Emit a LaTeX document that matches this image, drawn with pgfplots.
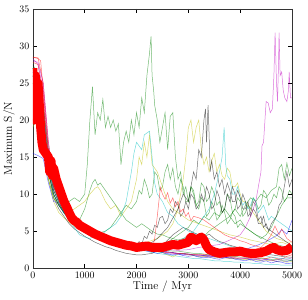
\documentclass[border=0pt]{standalone}
\usepackage{pgfplots}
\pgfplotsset{compat=1.18}
\usepackage{pgfplotstable}
\definecolor{mb}{rgb}{0,0,1}
\definecolor{mg}{rgb}{0,0.5,0}
\definecolor{mr}{rgb}{1,0,0}
\definecolor{mc}{rgb}{0,0.75,0.75}
\definecolor{mm}{rgb}{0.75,0,0.75}
\definecolor{my}{rgb}{0.75,0.75,0}
\definecolor{mk}{rgb}{0,0,0}
\pgfplotsset{tl/.style={line width=0.5bp, opacity=0.55, mark=none}}
\pgfplotstableread{
t b1 b2 m1 r1 c1 k1 y1 g0 b3
0 26.5 15.5 28.3 28.5 26.0 27.5 20.0 27.0 27.0
100 25.0 15.2 27.5 28.4 24.0 26.0 22.0 25.5 26.0
200 21.0 14.8 24.0 25.0 19.0 20.0 18.0 21.5 22.0
300 14.0 11.5 16.0 17.0 13.0 13.0 12.0 15.0 15.0
400 10.5 9.0 11.0 12.0 10.0 9.5 9.0 11.5 11.0
500 9.0 8.8 9.5 10.0 8.5 8.0 7.5 9.5 9.2
600 8.0 7.5 8.3 8.6 7.4 7.0 6.8 8.2 8.0
700 7.0 7.2 7.4 7.6 6.5 6.0 6.2 7.3 7.1
800 6.5 6.4 6.8 6.9 5.8 5.3 5.7 6.7 6.3
900 6.0 5.9 6.2 6.3 5.3 4.8 5.3 6.1 5.8
1000 5.6 5.2 5.7 5.8 5.0 4.3 5.0 5.6 5.3
1100 5.1 5.0 5.3 5.4 4.8 3.9 4.6 5.2 4.9
1200 4.7 4.5 4.9 5.0 4.4 3.5 4.3 4.8 4.5
1300 4.4 4.3 4.5 4.6 4.1 3.2 4.0 4.5 4.2
1400 4.1 3.9 4.2 4.3 3.9 2.9 3.8 4.2 3.9
1500 3.8 3.6 3.9 4.0 3.6 2.7 3.6 4.0 3.7
1600 3.6 3.5 3.7 3.7 3.4 2.4 3.4 3.8 3.5
1700 3.3 3.2 3.4 3.5 3.2 2.2 3.2 3.6 3.3
1800 3.1 2.9 3.2 3.3 3.0 2.0 3.1 3.4 3.1
1900 3.0 2.8 3.0 3.1 2.8 1.9 2.9 3.3 2.9
2000 2.8 2.6 2.9 2.9 2.6 1.8 2.8 3.1 2.8
2100 2.6 2.5 2.7 2.8 2.4 1.8 2.6 3.0 2.7
2200 2.5 2.3 2.6 2.6 2.3 1.9 2.5 2.9 2.6
2300 2.3 2.2 2.4 2.5 2.1 2.0 2.4 2.7 2.5
2400 2.3 2.0 2.3 2.4 2.0 2.4 2.2 2.6 2.4
2500 2.1 2.1 2.2 2.3 1.9 3.0 2.1 2.5 2.3
2600 2.0 1.9 2.1 2.2 1.8 3.8 1.8 2.4 2.2
2700 2.1 1.8 2.0 2.1 1.7 4.5 1.5 2.3 2.1
2800 1.9 1.9 2.0 2.0 1.6 5.0 1.9 2.3 2.0
2900 1.8 1.7 1.9 2.0 1.5 5.5 2.0 2.2 2.0
3000 1.9 1.6 1.8 1.9 1.4 5.2 1.8 2.1 1.9
3100 1.7 1.7 1.8 1.8 1.3 4.8 1.7 2.0 1.8
3200 1.6 1.5 1.7 1.8 1.3 4.5 1.6 2.0 1.8
3300 1.7 1.4 1.6 1.7 1.2 4.2 1.6 1.9 1.7
3400 1.5 1.5 1.6 1.7 1.1 4.6 1.5 1.8 1.7
3500 1.6 1.3 1.5 1.6 1.0 4.0 1.5 1.8 1.6
3600 1.4 1.2 1.5 1.6 1.0 3.6 1.4 1.7 1.6
3700 1.5 1.4 1.4 1.5 0.9 3.4 1.4 1.7 1.7
3800 1.3 1.5 1.4 1.5 0.9 3.1 1.3 1.6 1.8
3900 1.4 1.2 1.3 1.4 0.8 2.9 1.3 1.6 2.0
4000 1.2 1.1 1.3 1.4 0.8 2.7 1.2 1.5 2.2
4100 1.3 1.0 1.4 1.3 0.7 2.5 1.2 1.5 2.5
4200 1.1 1.2 1.2 1.3 0.7 2.3 1.1 1.4 2.8
4300 1.2 0.9 1.3 1.2 0.6 2.2 1.1 1.4 3.0
4400 1.0 0.8 1.1 1.4 0.6 2.0 1.0 1.3 3.3
4500 1.2 1.0 1.2 1.3 0.5 1.9 1.0 1.3 3.6
4600 1.1 0.7 1.0 1.5 0.5 1.8 1.1 1.2 4.0
4700 0.9 0.9 1.1 1.3 0.5 1.7 0.9 1.2 4.4
4800 1.0 0.8 1.3 1.2 0.4 1.6 1.0 1.1 5.2
4900 0.9 0.6 1.2 1.6 0.4 1.5 0.8 1.1 4.6
5000 1.1 0.7 1.4 1.8 0.4 1.5 0.9 1.0 6.5
}\bundle
\begin{document}
\begin{tikzpicture}
\begin{axis}[
  scale only axis, width=260bp, height=260bp,
  xmin=0, xmax=5000, ymin=0, ymax=35,
  xtick={0,1000,2000,3000,4000,5000},
  ytick={0,5,10,15,20,25,30,35},
  scaled x ticks=false,
  /pgf/number format/set thousands separator={},
  tick align=inside, major tick length=4bp,
  tick style={black, line width=0.5bp},
  axis line style={black!80, line width=0.7bp},
  tick label style={font=\fontsize{10}{12}\selectfont},
  label style={font=\fontsize{11.5}{13}\selectfont},
  xlabel={Time / Myr}, ylabel={Maximum S/N},
  xlabel style={at={(axis description cs:0.5,-0.07)}, anchor=center},
  ylabel style={at={(axis description cs:-0.092,0.5)}, anchor=center},
  clip=true,
]
\addplot[tl, mb] table[x=t, y=b1] {\bundle};
\addplot[tl, mg] table[x=t, y=g0] {\bundle};
\addplot[tl, mr] table[x=t, y=r1] {\bundle};
\addplot[tl, mc] table[x=t, y=c1] {\bundle};
\addplot[tl, mm] table[x=t, y=m1] {\bundle};
\addplot[tl, my] table[x=t, y=y1] {\bundle};
\addplot[tl, mk] table[x=t, y=k1] {\bundle};
\addplot[tl, mb] table[x=t, y=b2] {\bundle};
\addplot[tl, mb] table[x=t, y=b3] {\bundle};
% green A
\addplot[tl, mg] coordinates {(0,27.2)(100,26)(200,22)(300,16)(400,12)(500,10.5)(600,9.5)(700,9)(800,9.5)(900,9)(1000,10)(1050,14)(1100,20)(1150,24.5)(1200,18)(1250,21)(1300,20)(1350,22.8)(1400,19)(1450,20.5)(1500,19)(1550,20)(1600,18.5)(1650,19.5)(1700,14)(1750,17)(1800,18.5)(1850,17)(1900,20)(1950,18)(2000,21)(2050,19)(2100,23)(2150,21)(2200,26)(2250,29)(2280,31.3)(2300,26)(2330,24)(2350,22)(2400,20)(2450,17)(2500,19)(2550,21)(2600,16)(2650,20.5)(2700,21)(2750,15)(2800,12)(2850,13)(2900,10)(2950,11)(3000,9)(3050,11)(3100,10)(3150,8.5)(3200,8)(3250,9.5)(3300,9)(3350,7)(3400,7.5)(3450,9)(3500,8)(3550,6.5)(3600,7)(3650,8.5)(3700,7.5)(3750,6)(3800,6.5)(3850,7.5)(3900,7)(3950,5.5)(4000,6)(4100,5.5)(4200,5)(4300,4.5)(4400,4.2)(4500,3.8)(4600,3.5)(4700,3.2)(4800,3.0)(4900,2.8)(5000,2.6)};
% green 2
\addplot[tl, mg] coordinates {(0,26)(100,24.5)(200,19)(300,13)(400,10)(500,8.5)(600,7.8)(700,7)(800,6.5)(900,6.5)(1000,8)(1100,10.5)(1150,11.5)(1200,12)(1250,11.2)(1300,11.5)(1400,10.5)(1500,9.5)(1600,8.5)(1700,7.5)(1800,6.5)(1900,6)(2000,5.5)(2100,6)(2200,5.5)(2300,5)(2400,4.6)(2500,4.5)(2600,4.2)(2700,4)(2800,3.8)(2900,4)(3000,4.2)(3100,4)(3200,4.5)(3300,4.3)(3400,5)(3500,5.5)(3600,6)(3700,6.5)(3800,7)(3900,8)(4000,7)(4100,8.5)(4200,9.5)(4300,9)(4400,10)(4500,9.5)(4600,10.5)(4700,11)(4750,13.5)(4800,14)(4850,12)(4900,14.2)(4950,12.5)(5000,13.5)};
% green 3
\addplot[tl, mg] coordinates {(0,25)(100,23)(200,17)(300,12)(400,9.5)(500,8.5)(600,7.5)(700,6.8)(800,6.2)(900,5.7)(1000,5.3)(1100,5)(1200,5.2)(1300,4.8)(1400,5)(1500,5.5)(1600,6.5)(1700,7.5)(1800,8.5)(1900,8)(2000,9)(2050,10.5)(2100,10)(2150,12)(2200,11)(2250,9.5)(2300,10)(2350,13)(2400,12.5)(2450,10.5)(2500,11)(2550,13)(2600,14)(2650,12)(2700,13.5)(2750,11)(2800,10)(2850,12)(2900,11)(2950,9)(3000,9)(3050,11)(3100,10.5)(3150,8.5)(3200,9)(3250,11.5)(3300,11)(3350,9)(3400,9.5)(3450,11)(3500,10)(3550,8.5)(3600,9)(3650,7.5)(3700,8)(3750,10)(3800,9.5)(3850,7.5)(3900,8)(3950,9.5)(4000,9)(4050,7)(4100,7.5)(4150,8.5)(4200,8)(4250,9.5)(4300,9)(4350,8)(4400,8.5)(4450,10.5)(4500,10)(4550,8.5)(4600,9)(4650,10)(4700,9.5)(4750,11)(4800,10.5)(4850,9)(4900,9.5)(4950,10.5)(5000,10)};
% green 4
\addplot[tl, mg] coordinates {(0,26.8)(100,25)(200,20.5)(300,14.5)(400,11)(500,9.2)(600,8)(700,7.1)(800,6.4)(900,5.9)(1000,5.4)(1200,4.6)(1400,4)(1600,3.6)(1800,3.2)(2000,2.9)(2200,2.7)(2400,3)(2600,3.5)(2800,4.5)(3000,5.5)(3100,6.5)(3200,6)(3300,7)(3400,6.5)(3500,7.5)(3600,7)(3700,8)(3800,7)(3900,6)(4000,6.5)(4100,5.5)(4200,5)(4300,4.5)(4400,4)(4500,4.5)(4600,5.5)(4700,7)(4800,8.5)(4900,9.5)(5000,9.5)};
% yellow 2
\addplot[tl, my] coordinates {(0,19)(100,21)(200,17)(300,12)(400,9.5)(500,8.5)(600,8)(700,7.5)(800,8)(900,8.5)(1000,9)(1100,10)(1200,10.8)(1250,11)(1300,10.5)(1400,9)(1500,8)(1600,8.5)(1700,7)(1800,8)(1900,9)(2000,12)(2050,15)(2100,14)(2150,17)(2200,15)(2250,18)(2300,14)(2400,13)(2500,11)(2600,9)(2700,8)(2800,7.5)(2900,7)(3000,6.5)(3200,6)(3400,5.5)(3600,5)(3800,4.5)(4000,4.2)(4200,3.8)(4400,3.5)(4600,3.2)(4800,3.5)(5000,3)};
% yellow 3
\addplot[tl, my] coordinates {(0,27)(100,25.5)(200,20)(300,14)(400,10.5)(500,9)(600,8)(700,7)(800,6.5)(900,6)(1000,5.5)(1200,4.7)(1400,4.2)(1600,3.8)(1800,3.4)(2000,3.2)(2200,3.5)(2400,4)(2600,5)(2700,6)(2800,8)(2900,12)(2950,15)(3000,19)(3050,20)(3100,17)(3150,19)(3200,20)(3250,16)(3300,14)(3350,15)(3400,13)(3450,14.5)(3500,15.5)(3550,13)(3600,14)(3650,12.5)(3700,12)(3750,13.5)(3800,13)(3850,11)(3900,11)(3950,11.5)(4000,10)(4050,9)(4100,9)(4200,8)(4300,7)(4400,6)(4500,5)(4600,4.5)(4700,4)(4800,3.8)(4900,3.5)(5000,3.5)};
% cyan 2
\addplot[tl, mc] coordinates {(0,26.5)(100,25)(200,20)(300,14)(400,10)(500,8.5)(600,7.5)(700,6.5)(800,5.5)(900,4.5)(1000,4.2)(1100,4)(1200,4.5)(1300,4.3)(1400,5)(1500,5.5)(1600,6)(1700,7)(1800,9)(1900,13)(1950,15.5)(2000,17)(2100,16)(2150,18)(2250,18.5)(2300,15)(2350,11.5)(2400,10)(2500,9)(2600,7.5)(2700,7)(2800,6)(2900,5.5)(3000,5)(3200,4.5)(3400,4)(3600,3.5)(3800,3)(4000,2.5)(4200,2)(4400,1.8)(4600,1.5)(4800,1.3)(5000,1.2)};
% cyan 3
\addplot[tl, mc] coordinates {(0,27)(100,26)(200,21)(300,15)(400,11)(500,9)(600,7.8)(700,7)(800,6.2)(900,5.6)(1000,5.1)(1200,4.3)(1400,3.7)(1600,3.2)(1800,2.9)(2000,2.6)(2200,2.4)(2400,2.3)(2500,2.1)(2700,3)(2900,4)(3100,5)(3300,7)(3400,8)(3500,10)(3600,13)(3650,15)(3690,19)(3720,14)(3750,12.5)(3800,12)(3850,10)(3900,10)(3950,11)(4000,9.5)(4050,8.5)(4100,9)(4150,8)(4200,8.5)(4250,9.5)(4300,9)(4350,7.5)(4400,8)(4450,8.5)(4500,7.5)(4550,6.5)(4600,7)(4700,6.5)(4800,6)(4900,5.5)(5000,5)};
% grey peak
\addplot[tl, mk] coordinates {(0,27)(100,25)(200,20)(300,14)(400,10.5)(500,8.8)(600,7.7)(700,6.8)(800,6.1)(900,5.6)(1000,5.2)(1200,4.5)(1400,3.9)(1600,3.5)(1800,3.1)(2000,2.8)(2200,3)(2400,4)(2600,5.5)(2800,8)(2900,10)(3000,9)(3100,13)(3150,12)(3200,16)(3250,15)(3300,20)(3330,21.5)(3350,17)(3380,22)(3400,18)(3420,13)(3450,14.5)(3500,12)(3550,13)(3600,11)(3650,12)(3700,10)(3750,11.5)(3800,10.5)(3850,9)(3900,9)(3950,10.5)(4000,9.5)(4050,8)(4100,8)(4150,9)(4200,7)(4250,8)(4300,7.5)(4350,6)(4400,6)(4450,7)(4500,5.5)(4600,5)(4700,4.5)(4800,4)(4900,3.5)(5000,3)};
% black 3
\addplot[tl, mk] coordinates {(0,26)(100,24)(200,19)(300,13)(400,10)(500,8.5)(600,7.5)(700,6.7)(800,6)(900,5.5)(1000,5)(1200,4.3)(1400,3.7)(1600,3.2)(1800,2.9)(2000,3)(2050,3.6)(2100,3.2)(2150,4.3)(2200,4)(2250,5)(2300,4.6)(2350,5.8)(2400,5.5)(2450,6.8)(2500,7)(2550,6)(2600,6.5)(2650,8)(2700,7.5)(2750,9)(2800,8.5)(2850,7)(2900,7.5)(2950,9)(3000,8)(3050,10)(3100,9.5)(3150,8)(3200,8.5)(3250,10)(3300,9)(3350,11)(3400,10)(3450,8)(3500,8.5)(3550,10.5)(3600,9.5)(3650,7.5)(3700,8)(3750,10)(3800,9)(3850,11)(3900,10)(3950,8)(4000,8.5)(4050,10)(4100,9)(4150,7)(4200,7.5)(4250,9)(4300,8.5)(4350,6.5)(4400,7)(4450,5.5)(4500,6)(4550,5)(4600,6)(4650,6.5)(4700,7)(4750,8.5)(4800,9)(4850,11)(4900,13)(4950,11)(5000,12)};
% red 2
\addplot[tl, mr] coordinates {(0,28.5)(100,28.3)(150,28)(200,24)(300,16)(400,11.5)(500,9.5)(600,8.3)(700,7.3)(800,6.6)(900,6)(1000,5.5)(1200,4.7)(1400,4.1)(1600,3.6)(1800,3.2)(2000,2.9)(2100,2.6)(2200,2.4)(2300,2.5)(2350,4)(2400,7)(2460,10.9)(2500,10)(2550,9.3)(2600,10.2)(2650,8.8)(2700,9.5)(2750,8.3)(2800,9)(2850,7.6)(2900,8)(2950,7)(3000,7.5)(3050,6.4)(3100,7)(3200,6.8)(3300,6.5)(3400,6)(3500,5.5)(3600,5)(3700,4.5)(3800,4.2)(3900,4)(4000,3.7)(4100,3.5)(4200,3.2)(4300,3)(4400,2.8)(4500,2.6)(4600,2.5)(4700,2.3)(4800,2.2)(4900,2)(5000,1.9)};
% red 3
\addplot[tl, mr] coordinates {(0,27.8)(100,27.5)(200,23)(300,15)(400,11)(500,9.3)(600,8.1)(700,7.2)(800,6.5)(900,5.9)(1000,5.4)(1200,4.6)(1400,4)(1600,3.5)(1800,3.1)(2000,2.8)(2200,2.5)(2400,2.3)(2600,2.1)(2800,2)(3000,1.9)(3200,1.8)(3400,1.9)(3600,1.8)(3800,1.9)(4000,2)(4200,2.3)(4400,2.8)(4500,3.5)(4600,4.5)(4670,5.7)(4750,4.5)(4800,5.3)(4900,4)(5000,3.5)};
% magenta high
\addplot[tl, mm] coordinates {(0,28)(100,27.8)(200,25)(300,17)(400,12)(500,10)(600,8.6)(700,7.6)(800,6.9)(900,6.3)(1000,5.8)(1200,5)(1400,4.3)(1600,3.8)(1800,3.4)(2000,3.1)(2200,2.8)(2400,2.6)(2600,2.5)(2800,2.4)(3000,2.5)(3200,2.8)(3400,3)(3600,3.2)(3800,3.8)(4000,4.5)(4100,5.5)(4200,7)(4300,9)(4350,11)(4400,13)(4420,16.5)(4450,17)(4500,22.5)(4540,22.3)(4580,21)(4620,21.5)(4650,26)(4673,31.8)(4700,25)(4720,22.5)(4740,28)(4750,31.8)(4770,26)(4800,26.5)(4830,24)(4860,23)(4900,22.5)(4930,24)(4945,26.5)(4970,23)(5000,23)};
% thick red mean
\addplot[mr, line width=9bp, mark=none, line join=round] coordinates {(0,27)(25,20)(50,26)(75,21)(100,25)(125,22)(150,19)(175,17)(200,16)(250,15.5)(300,15)(325,13)(350,14.5)(375,12.5)(400,13.5)(450,12)(500,11)(550,10)(600,9)(650,8.3)(700,7.5)(750,6.8)(800,6.4)(850,6.2)(900,5.8)(1000,5.4)(1100,5.0)(1200,4.6)(1300,4.3)(1400,4.0)(1500,3.7)(1600,3.5)(1700,3.3)(1800,3.1)(1900,3.0)(2000,2.8)(2100,2.9)(2200,3.0)(2300,2.8)(2400,2.8)(2500,2.8)(2600,3.0)(2700,3.2)(2800,3.1)(2900,3.3)(3000,3.5)(3050,4.2)(3100,4.0)(3150,3.7)(3200,4.0)(3250,4.2)(3300,3.8)(3350,3.0)(3400,2.5)(3500,2.2)(3600,2.0)(3700,2.1)(3800,2.2)(3900,2.2)(4000,2.3)(4100,2.1)(4200,2.0)(4300,2.0)(4400,2.1)(4500,2.3)(4600,2.7)(4650,2.8)(4700,2.5)(4800,2.3)(4900,2.4)(5000,2.9)};
\end{axis}
\path ([shift={(-32bp,-31bp)}]current axis.south west) rectangle ([shift={(16bp,9bp)}]current axis.north east);
\end{tikzpicture}
\end{document}
